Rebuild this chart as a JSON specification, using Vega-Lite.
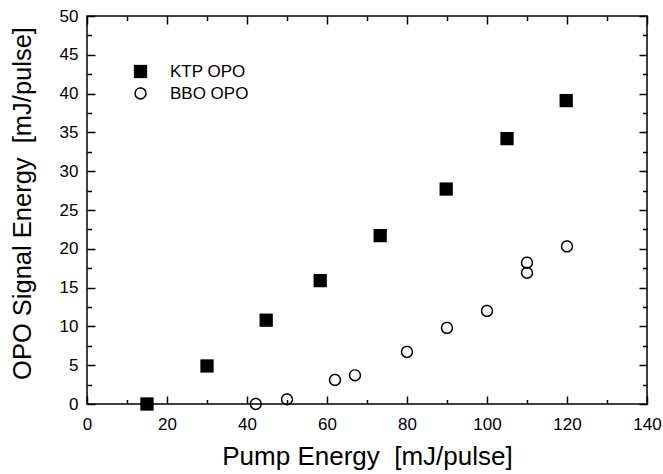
{
  "$schema": "https://vega.github.io/schema/vega-lite/v6.json",
  "width": 560,
  "height": 388,
  "autosize": "none",
  "padding": {"left": 87, "top": 16, "right": 16, "bottom": 70},
  "config": {"view": {"stroke": "black", "strokeWidth": 1.5}},
  "data": {
    "values": [
      {"series": "KTP OPO", "pump": 15, "signal": 0},
      {"series": "KTP OPO", "pump": 30, "signal": 4.9},
      {"series": "KTP OPO", "pump": 44.8, "signal": 10.8},
      {"series": "KTP OPO", "pump": 58.3, "signal": 15.9},
      {"series": "KTP OPO", "pump": 73.3, "signal": 21.7},
      {"series": "KTP OPO", "pump": 89.8, "signal": 27.7},
      {"series": "KTP OPO", "pump": 105, "signal": 34.2},
      {"series": "KTP OPO", "pump": 119.8, "signal": 39.1},
      {"series": "BBO OPO", "pump": 42.2, "signal": 0},
      {"series": "BBO OPO", "pump": 50, "signal": 0.6},
      {"series": "BBO OPO", "pump": 62, "signal": 3.1},
      {"series": "BBO OPO", "pump": 67, "signal": 3.7},
      {"series": "BBO OPO", "pump": 80, "signal": 6.7},
      {"series": "BBO OPO", "pump": 90, "signal": 9.8},
      {"series": "BBO OPO", "pump": 100, "signal": 12},
      {"series": "BBO OPO", "pump": 110, "signal": 18.2},
      {"series": "BBO OPO", "pump": 110, "signal": 16.9},
      {"series": "BBO OPO", "pump": 120, "signal": 20.3}
    ]
  },
  "layer": [
    {
      "mark": {"type": "point", "filled": true, "color": "black", "fill": "black", "strokeWidth": 0, "size": 151, "opacity": 1},
      "encoding": {
        "x": {
          "field": "pump", "type": "quantitative",
          "scale": {"domain": [0, 140], "nice": false, "zero": false},
          "axis": {
            "orient": "bottom",
            "values": [0, 20, 40, 60, 80, 100, 120, 140],
            "grid": false,
            "domain": false,
            "tickSize": -8,
            "tickColor": "black",
            "tickWidth": 1.5,
            "labelPadding": 20,
            "labelFontSize": 17,
            "labelFont": "Liberation Sans",
            "labelColor": "black",
            "labelFlush": false,
            "labelOverlap": false,
            "title": "Pump Energy\u00a0\u00a0[mJ/pulse]",
            "titleFont": "Liberation Sans",
            "titleFontWeight": "normal",
            "titleColor": "black",
            "titleFontSize": 26,
            "titlePadding": 11
          }
        },
        "y": {
          "field": "signal", "type": "quantitative",
          "scale": {"domain": [0, 50], "nice": false, "zero": false},
          "axis": {
            "orient": "left",
            "values": [0, 5, 10, 15, 20, 25, 30, 35, 40, 45, 50],
            "grid": false,
            "domain": false,
            "tickSize": -8,
            "tickColor": "black",
            "tickWidth": 1.5,
            "labelPadding": 17,
            "labelFontSize": 17,
            "labelFont": "Liberation Sans",
            "labelColor": "black",
            "labelOverlap": false,
            "title": "OPO Signal Energy\u00a0\u00a0[mJ/pulse]",
            "titleFont": "Liberation Sans",
            "titleFontWeight": "normal",
            "titleColor": "black",
            "titleFontSize": 25.5,
            "titlePadding": 24,
            "titleY": 187
          }
        },
        "shape": {
          "field": "series", "type": "nominal",
          "scale": {
            "domain": ["KTP OPO", "BBO OPO"],
            "range": [
              "M-1.08,-1.08H1.08V1.08H-1.08Z",
              "M-1,0A1,1 0 1,0 1,0A1,1 0 1,0 -1,0Z M-0.76,0A0.76,0.76 0 1,1 0.76,0A0.76,0.76 0 1,1 -0.76,0Z"
            ]
          },
          "legend": {
            "orient": "none", "legendX": 45, "legendY": 47, "title": null,
            "labelFontSize": 17, "labelFont": "Liberation Sans", "labelColor": "black",
            "labelOffset": 21, "rowPadding": 4, "padding": 0,
            "symbolSize": 151, "symbolFillColor": "black", "symbolStrokeWidth": 0
          }
        }
      }
    },
    {
      "mark": {"type": "point", "opacity": 0},
      "encoding": {
        "x": {"field": "pump", "type": "quantitative",
          "axis": {"orient": "top", "values": [0, 20, 40, 60, 80, 100, 120, 140], "grid": false, "domain": false, "tickSize": -8, "tickColor": "black", "tickWidth": 1.5, "labels": false, "title": null}},
        "y": {"field": "signal", "type": "quantitative",
          "axis": {"orient": "right", "values": [0, 5, 10, 15, 20, 25, 30, 35, 40, 45, 50], "grid": false, "domain": false, "tickSize": -8, "tickColor": "black", "tickWidth": 1.5, "labels": false, "title": null}}
      }
    },
    {
      "mark": {"type": "point", "opacity": 0},
      "encoding": {
        "x": {"field": "pump", "type": "quantitative",
          "axis": {"orient": "bottom", "values": [10, 30, 50, 70, 90, 110, 130], "grid": false, "tickSize": -4.5, "tickColor": "black", "tickWidth": 1.5, "labels": false, "domain": false, "title": null}},
        "y": {"field": "signal", "type": "quantitative",
          "axis": {"orient": "left", "values": [2.5, 7.5, 12.5, 17.5, 22.5, 27.5, 32.5, 37.5, 42.5, 47.5], "grid": false, "tickSize": -4.5, "tickColor": "black", "tickWidth": 1.5, "labels": false, "domain": false, "title": null}}
      }
    },
    {
      "mark": {"type": "point", "opacity": 0},
      "encoding": {
        "x": {"field": "pump", "type": "quantitative",
          "axis": {"orient": "top", "values": [10, 30, 50, 70, 90, 110, 130], "grid": false, "tickSize": -4.5, "tickColor": "black", "tickWidth": 1.5, "labels": false, "domain": false, "title": null}},
        "y": {"field": "signal", "type": "quantitative",
          "axis": {"orient": "right", "values": [2.5, 7.5, 12.5, 17.5, 22.5, 27.5, 32.5, 37.5, 42.5, 47.5], "grid": false, "tickSize": -4.5, "tickColor": "black", "tickWidth": 1.5, "labels": false, "domain": false, "title": null}}
      }
    }
  ],
  "resolve": {"axis": {"x": "independent", "y": "independent"}}
}
